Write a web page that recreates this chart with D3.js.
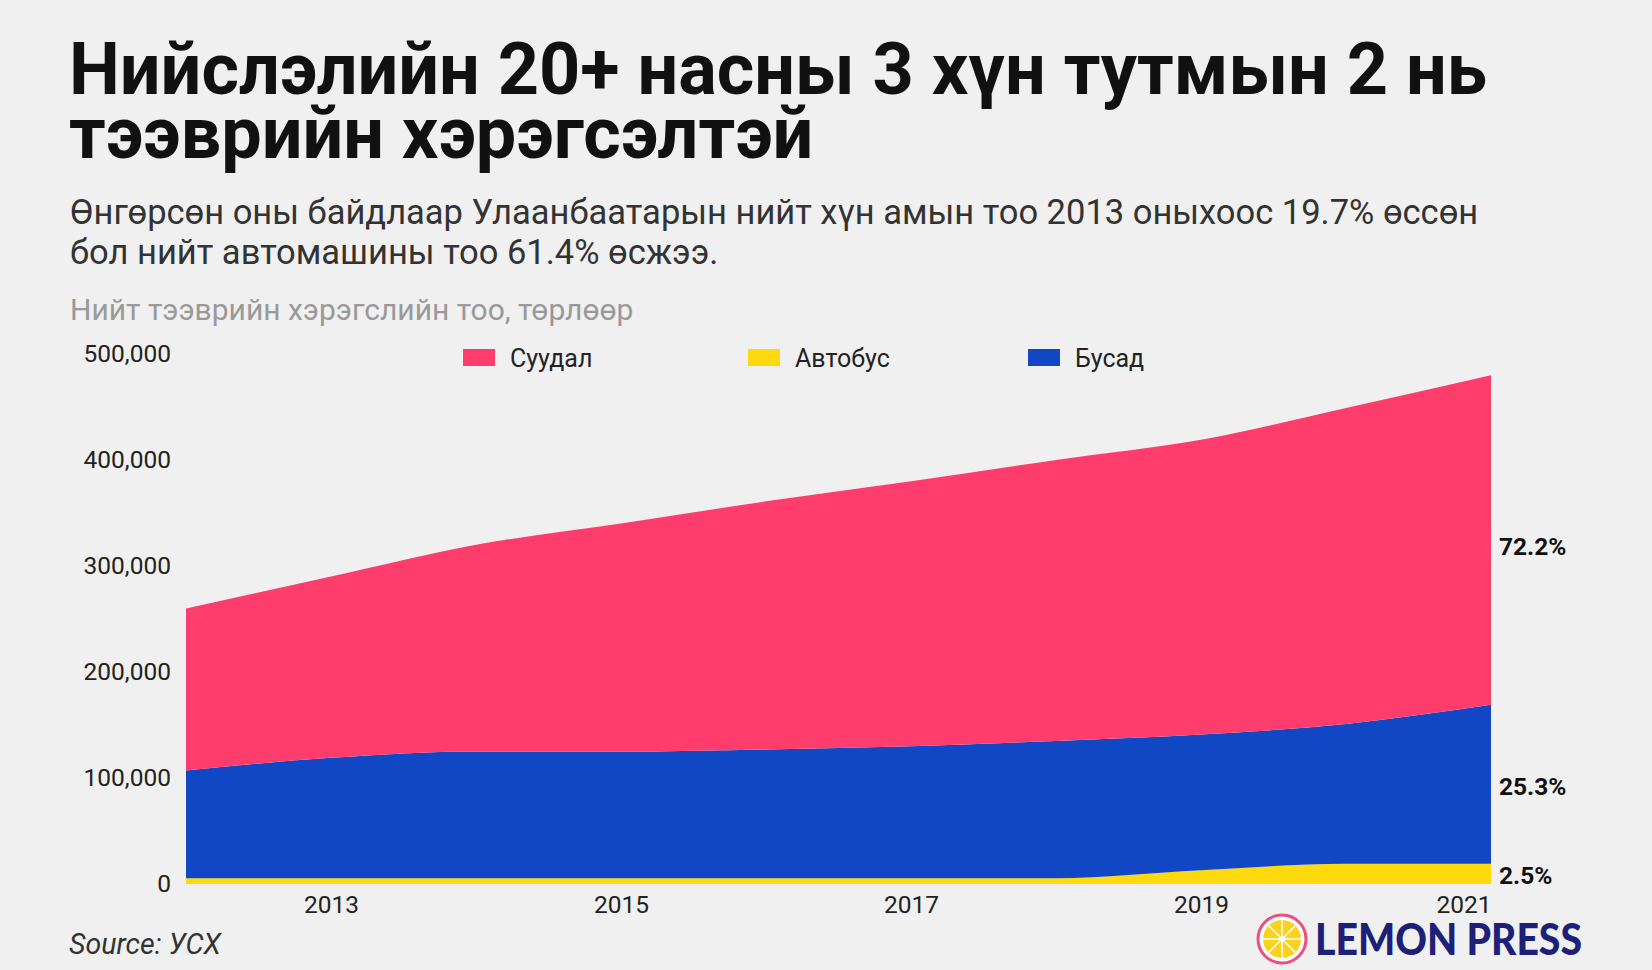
<!DOCTYPE html>
<html>
<head>
<meta charset="utf-8">
<script src="https://cdn.jsdelivr.net/npm/d3@7"></script>
<style>
  html, body { margin: 0; padding: 0; background: #f0f0f0; }
  svg { display: block; font-family: Roboto, "Noto Sans", sans-serif; }
</style>
</head>
<body>
<svg id="chart" width="1652" height="970"></svg>
<script>
// ---- data ----
const years = [2012, 2013, 2014, 2015, 2016, 2017, 2018, 2019, 2020, 2021];
const bus   = [5500, 5500, 5500, 5500, 5500, 5500, 5500, 13000, 19000, 19000];          // Автобус
const other = [101500, 113500, 119500, 119500, 121500, 124500, 129500, 128000, 132000, 150000]; // Бусад
const cars  = [153000, 171000, 195000, 215000, 234000, 250000, 265000, 278000, 298000, 311000]; // Суудал
const seriesNames = ["Автобус", "Бусад", "Суудал"];
const legendNames = ["Суудал", "Автобус", "Бусад"];
const endLabels = ["2.5%", "25.3%", "72.2%"];
const yTicks = [0, 100000, 200000, 300000, 400000, 500000];
const xTicks = [2013, 2015, 2017, 2019, 2021];
const colors = { "Суудал": "#ff3d6d", "Автобус": "#fdd90d", "Бусад": "#1147c4" };

const titleLines = ["Нийслэлийн 20+ насны 3 хүн тутмын 2 нь", "тээврийн хэрэгсэлтэй"];
const subtitleLines = ["Өнгөрсөн оны байдлаар Улаанбаатарын нийт хүн амын тоо 2013 оныхоос 19.7% өссөн",
                       "бол нийт автомашины тоо 61.4% өсжээ."];
const axisTitle = "Нийт тээврийн хэрэгслийн тоо, төрлөөр";
const sourceText = "Source: УСХ";

// ---- build ----
const svg = d3.select("#chart");
svg.append("rect").attr("width", 1652).attr("height", 970).attr("fill", "#f0f0f0");

const table = years.map((y, i) => ({ year: y, "Автобус": bus[i], "Бусад": other[i], "Суудал": cars[i] }));
const stacked = d3.stack().keys(seriesNames)(table);

const x = d3.scaleLinear().domain([2012, 2021]).range([186, 1491]);
const y = d3.scaleLinear().domain([0, 500000]).range([884, 354]);

// Title
svg.append("g").selectAll("text").data(titleLines).join("text")
  .attr("x", 69).attr("y", (d, i) => 94 + i * 64)
  .attr("font-size", 72).attr("font-weight", 700).attr("fill", "#111")
  .text(d => d);

svg.append("g").selectAll("text").data(subtitleLines).join("text")
  .attr("x", 70).attr("y", (d, i) => 224 + i * 40)
  .attr("font-size", 34.5).attr("fill", "#333")
  .text(d => d);

svg.append("text").attr("x", 70).attr("y", 320)
  .attr("font-size", 30).attr("fill", "#999").text(axisTitle);

// Areas
const area = d3.area()
  .x(d => x(d.data.year))
  .y0(d => y(d[0]))
  .y1(d => y(d[1]))
  .curve(d3.curveMonotoneX);

svg.append("g").selectAll("path").data(stacked).join("path")
  .attr("d", area)
  .attr("fill", d => colors[d.key]);

// Y axis
const yAxis = d3.axisLeft(y).tickValues(yTicks).tickFormat(d3.format(",")).tickSize(0).tickPadding(0);
const gy = svg.append("g").attr("transform", "translate(171,0)").call(yAxis);
gy.select(".domain").remove();
gy.selectAll("text").attr("font-size", 24.5).attr("fill", "#222").attr("font-family", "Roboto");

// X axis
const xAxis = d3.axisBottom(x).tickValues(xTicks).tickFormat(d3.format("d")).tickSize(0).tickPadding(0);
const gx = svg.append("g").attr("transform", "translate(0,896)").call(xAxis);
gx.select(".domain").remove();
gx.selectAll("text").attr("font-size", 24.5).attr("fill", "#222").attr("font-family", "Roboto")
  .attr("text-anchor", d => d === 2021 ? "end" : "middle");

// End labels (percent shares at the last point)
const last = table.length - 1;
svg.append("g").selectAll("text").data(stacked).join("text")
  .attr("x", x(years[last]) + 8)
  .attr("y", d => y((d[last][0] + d[last][1]) / 2))
  .attr("dy", (d, i) => i === 2 ? "0.6em" : "0.42em")
  .attr("font-size", 24.5).attr("font-weight", 700).attr("fill", "#111")
  .text((d, i) => endLabels[i]);

// Legend
const legendX = [463, 748, 1028];
const lg = svg.append("g").selectAll("g").data(legendNames).join("g")
  .attr("transform", (d, i) => `translate(${legendX[i]},349)`);
lg.append("rect").attr("width", 32).attr("height", 17).attr("fill", d => colors[d]);
lg.append("text").attr("x", 47).attr("y", 9).attr("dy", "0.35em")
  .attr("font-size", 25).attr("fill", "#222").text(d => d);

// Source
svg.append("text").attr("x", 69).attr("y", 954)
  .attr("font-size", 28.5).attr("font-style", "italic").attr("fill", "#333").text(sourceText);

// Logo
const logo = svg.append("g").attr("transform", "translate(1282,939)");
logo.append("circle").attr("r", 24).attr("fill", "#fff").attr("stroke", "#ec4f7f").attr("stroke-width", 3);
logo.append("circle").attr("r", 19).attr("fill", "#fbd31e");
d3.range(8).forEach(k => {
  const a = k * Math.PI / 4;
  logo.append("line").attr("x1", 0).attr("y1", 0)
    .attr("x2", 19 * Math.cos(a)).attr("y2", 19 * Math.sin(a))
    .attr("stroke", "#fff").attr("stroke-width", 1.5);
});
logo.append("circle").attr("r", 3).attr("fill", "#fff");
svg.append("text").attr("x", 1315).attr("y", 955)
  .attr("font-family", "Lato, 'Open Sans', sans-serif").attr("font-weight", 900)
  .attr("font-size", 44).attr("fill", "#1d1f78")
  .attr("textLength", 267).attr("lengthAdjust", "spacingAndGlyphs")
  .text("LEMON PRESS");
</script>
</body>
</html>
